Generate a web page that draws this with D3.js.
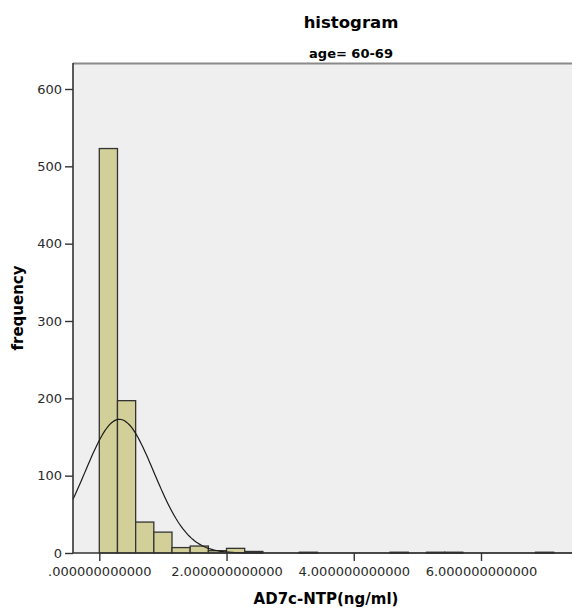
<!DOCTYPE html>
<html>
<head>
<meta charset="utf-8">
<script src="https://cdn.jsdelivr.net/npm/d3@7"></script>
<style>
  body { margin: 0; background: #fff; }
  svg { display: block; font-family: "DejaVu Sans", sans-serif; }
</style>
</head>
<body>
<svg id="chart" width="572" height="609"></svg>
<script>
// histogram bins: width 2/7 starting at 0
const binWidth = 2 / 7;
const counts = [523, 197, 40, 27, 7, 9, 3, 6, 2, 0, 0, 1, 0, 0, 0, 0, 1, 0, 1, 1, 0, 0, 0, 0, 1];
// fitted normal curve (SPSS overlay)
const fitMean = 0.316;
const fitSd = 0.54;
const xTicks = [0, 2, 4, 6];
const xTickLabels = [".000000000000", "2.000000000000", "4.000000000000", "6.000000000000"];
const yTicks = [0, 100, 200, 300, 400, 500, 600];

const svg = d3.select("#chart");
const plot = { left: 73, top: 63, right: 572, bottom: 553 };

let x = d3.scaleLinear().domain([0, 6]).range([99.3, 481]);
let y = d3.scaleLinear().domain([0, 600]).range([553, 89]);

// plot background
svg.append("rect")
    .attr("x", plot.left).attr("y", plot.top)
    .attr("width", plot.right - plot.left + 10).attr("height", plot.bottom - plot.top)
    .attr("fill", "#efefef");

// top frame line
svg.append("line")
    .attr("x1", plot.left).attr("x2", plot.right)
    .attr("y1", plot.top + 0.5).attr("y2", plot.top + 0.5)
    .attr("stroke", "#8a8a8a").attr("stroke-width", 2);

// bars
let bins = counts.map((c, i) => ({ x0: i * binWidth, x1: (i + 1) * binWidth, n: c })).filter(d => d.n > 0);
svg.append("g")
    .selectAll("rect")
    .data(bins)
    .enter().append("rect")
    .attr("x", d => x(d.x0))
    .attr("y", d => y(d.n))
    .attr("width", d => x(d.x1) - x(d.x0))
    .attr("height", d => y(0) - y(d.n))
    .attr("fill", "#d3cf98")
    .attr("stroke", "#333")
    .attr("stroke-width", 1.3);

// normal curve
let total = d3.sum(counts);
let xmin = x.invert(plot.left), xmax = x.invert(plot.right);
let pts = d3.range(0, 301).map(i => {
    let v = xmin + (xmax - xmin) * i / 300;
    let z = (v - fitMean) / fitSd;
    return [v, total * binWidth * Math.exp(-0.5 * z * z) / (fitSd * Math.sqrt(2 * Math.PI))];
});
svg.append("path")
    .datum(pts)
    .attr("fill", "none")
    .attr("stroke", "#1a1a1a")
    .attr("stroke-width", 1.2)
    .attr("d", d3.line().x(d => x(d[0])).y(d => y(d[1])));

// y axis
let yAxis = svg.append("g")
    .attr("transform", `translate(${plot.left},0)`)
    .call(d3.axisLeft(y).tickValues(yTicks).tickSize(8).tickPadding(3));
yAxis.select(".domain").attr("d", `M0,${plot.top}V${plot.bottom}`).attr("stroke", "#333").attr("stroke-width", 1.6);
yAxis.selectAll(".tick line").attr("stroke", "#333").attr("stroke-width", 1.4);
yAxis.selectAll("text").attr("font-size", 13).attr("fill", "#2a2a2a").attr("font-family", "DejaVu Sans");

// x axis
let xAxis = svg.append("g")
    .attr("transform", `translate(0,${plot.bottom})`)
    .call(d3.axisBottom(x).tickValues(xTicks).tickFormat((d, i) => xTickLabels[i]).tickSize(8).tickPadding(6));
xAxis.select(".domain").attr("d", `M${plot.left},0H${plot.right}`).attr("stroke", "#333").attr("stroke-width", 1.6);
xAxis.selectAll(".tick line").attr("stroke", "#333").attr("stroke-width", 1.4);
xAxis.selectAll("text").attr("font-size", 13).attr("fill", "#2a2a2a").attr("font-family", "DejaVu Sans");

// titles
svg.append("text")
    .attr("x", 351).attr("y", 28)
    .attr("text-anchor", "middle")
    .attr("font-size", 16.5).attr("font-weight", "bold")
    .text("histogram");
svg.append("text")
    .attr("x", 351).attr("y", 58)
    .attr("text-anchor", "middle")
    .attr("font-size", 13).attr("font-weight", "bold")
    .text("age= 60-69");

svg.append("text")
    .attr("transform", `translate(23,308) rotate(-90)`)
    .attr("text-anchor", "middle")
    .attr("font-size", 15).attr("font-weight", "bold")
    .text("frequency");

svg.append("text")
    .attr("x", 326).attr("y", 604)
    .attr("text-anchor", "middle")
    .attr("font-size", 15).attr("font-weight", "bold")
    .text("AD7c-NTP(ng/ml)");
</script>
</body>
</html>
